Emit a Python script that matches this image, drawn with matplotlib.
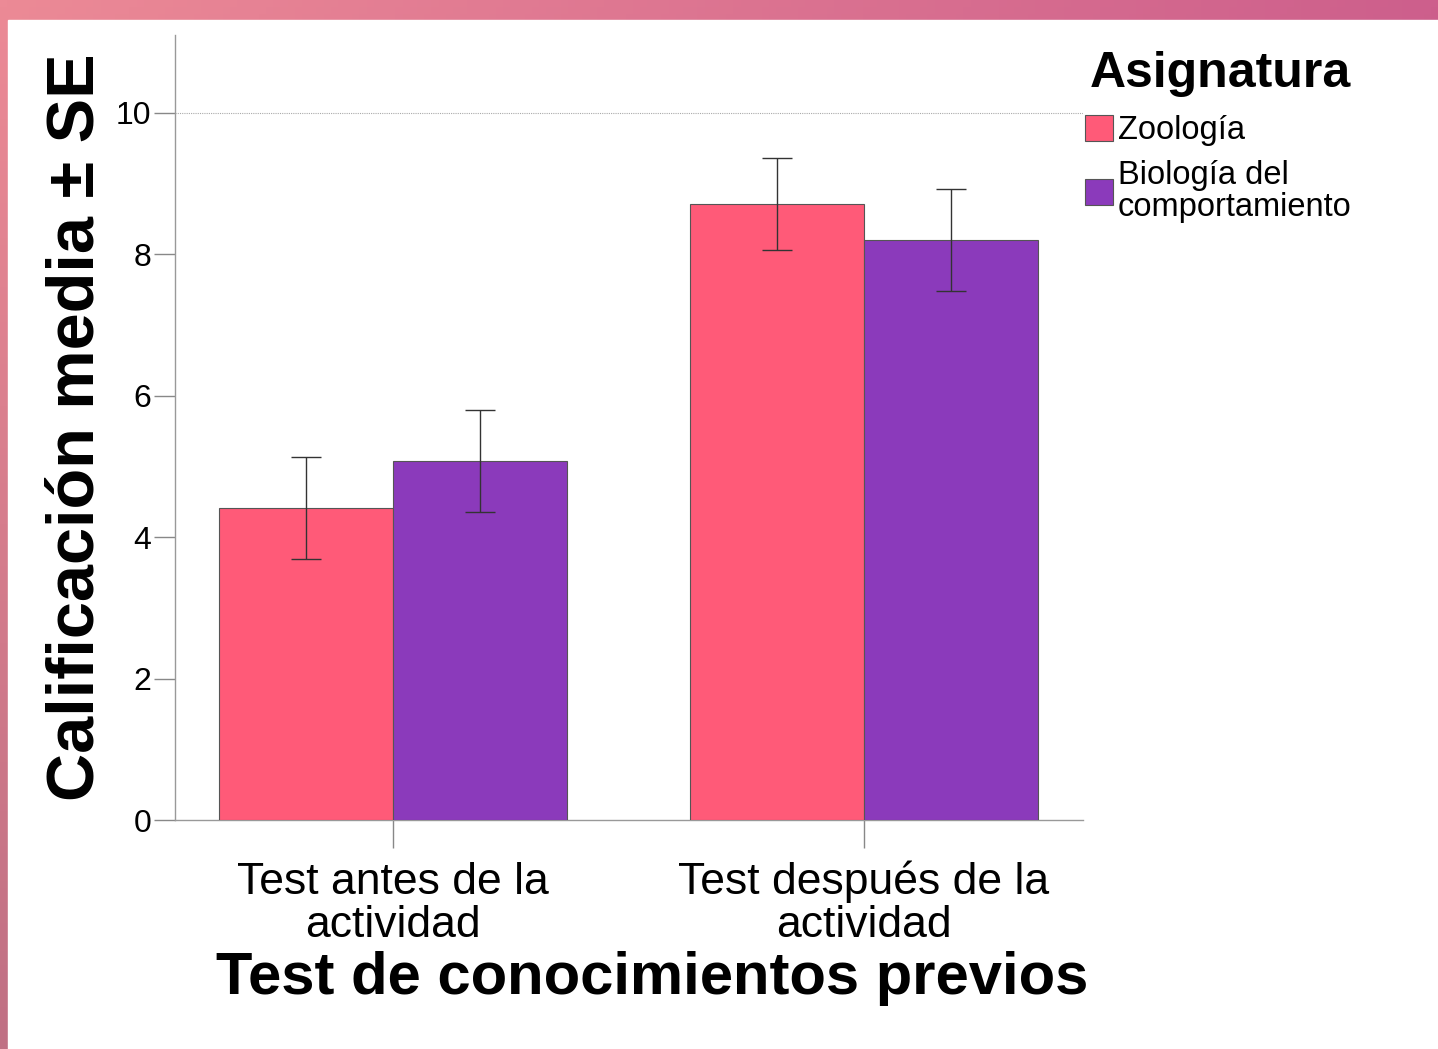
import numpy as np
import matplotlib
matplotlib.use("Agg")
import matplotlib.pyplot as plt
from matplotlib.patches import Rectangle

plt.rcParams['font.family'] = ['Liberation Sans', 'DejaVu Sans']

categories = ["Test antes de la\nactividad", "Test después de la\nactividad"]
series_names = ["Zoología", "Biología del\ncomportamiento"]
zoologia = [4.41, 8.71]
zoologia_se = [0.72, 0.65]
biologia = [5.08, 8.20]
biologia_se = [0.72, 0.72]
yticks = [0, 2, 4, 6, 8, 10]

colors = ["#FF5A78", "#8B3ABB"]

W, H = 1438, 1049
fig = plt.figure(figsize=(W / 100, H / 100), dpi=100)

# gradient frame background
bg = fig.add_axes([0, 0, 1, 1], zorder=-10)
tl = np.array([236, 138, 150]) / 255
tr = np.array([205, 95, 140]) / 255
bl = np.array([192, 112, 132]) / 255
br = np.array([185, 90, 135]) / 255
u = np.linspace(0, 1, 200)[None, :, None]
v = np.linspace(0, 1, 150)[:, None, None]
img = (1 - v) * ((1 - u) * tl + u * tr) + v * ((1 - u) * bl + u * br)
bg.imshow(img, extent=[0, 1, 0, 1], aspect='auto', origin='upper')
bg.add_patch(Rectangle((8 / W, 0), 1, 1 - 20 / H, color='white', transform=bg.transAxes))
bg.set_xlim(0, 1); bg.set_ylim(0, 1)
bg.axis('off')

ax = fig.add_axes([175 / W, 1 - 820 / H, 908 / W, 785 / H])
x = np.arange(len(categories))
w = 0.369
ecol = '#555555'
ax.bar(x - w / 2, zoologia, w, color=colors[0], edgecolor=ecol, linewidth=0.8, label=series_names[0], zorder=3)
ax.bar(x + w / 2, biologia, w, color=colors[1], edgecolor=ecol, linewidth=0.8, label=series_names[1], zorder=3)
ax.errorbar(x - w / 2, zoologia, yerr=zoologia_se, fmt='none', ecolor='#333333', elinewidth=1.0, capsize=11, capthick=1.0, zorder=4)
ax.errorbar(x + w / 2, biologia, yerr=biologia_se, fmt='none', ecolor='#333333', elinewidth=1.0, capsize=11, capthick=1.0, zorder=4)

ax.set_xlim(-0.463, 1.465)
ax.set_ylim(0, 11.1)
ax.set_yticks(yticks)
ax.set_yticklabels([str(t) for t in yticks], fontsize=23)
ax.set_xticks(x)
ax.axhline(10, color='#aaaaaa', linestyle=(0, (1, 1)), linewidth=0.8, zorder=1)

for side in ['top', 'right']:
    ax.spines[side].set_visible(False)
for side in ['left', 'bottom']:
    ax.spines[side].set_color('#999999')
    ax.spines[side].set_linewidth(1.0)
ax.tick_params(axis='y', length=15, width=1.0, color='#888888', pad=2)
ax.tick_params(axis='x', length=20, width=1.0, color='#888888', pad=64)
ax.set_xticklabels(categories, fontsize=32, linespacing=1.05)
for lab in ax.get_xticklabels():
    lab.set_verticalalignment('baseline')

ax.set_xlabel("Test de conocimientos previos", fontsize=43, fontweight='bold', labelpad=4, x=0.526)
ax.set_ylabel("Calificación media ± SE", fontsize=48, fontweight='bold', labelpad=6)

fig.text(1090 / W, 1 - 87 / H, "Asignatura", fontsize=36, fontweight='bold', ha='left', va='baseline')
leg = ax.legend(loc='upper left', bbox_to_anchor=(1085 / W, 1 - 115 / H), bbox_transform=fig.transFigure,
                frameon=False, fontsize=23.5,
                handlelength=0.86, handleheight=0.86, handletextpad=0.15, labelspacing=0.42,
                borderaxespad=0, borderpad=0)
for t in leg.get_texts():
    t.set_linespacing(1.02)

fig.savefig("out.png", dpi=100)
